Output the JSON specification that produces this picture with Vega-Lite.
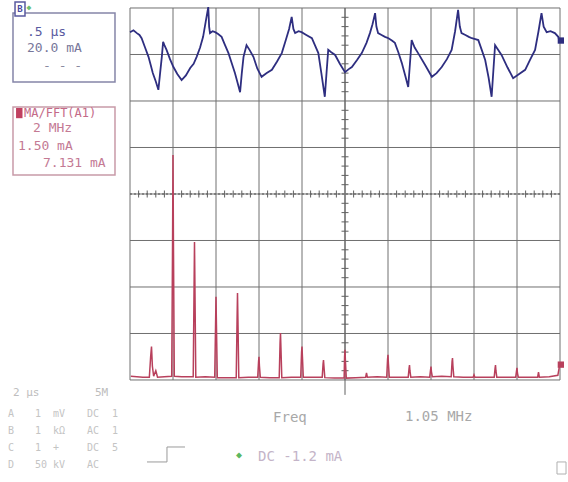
{
  "$schema": "https://vega.github.io/schema/vega-lite/v6.json",
  "width": 568,
  "height": 482,
  "autosize": {"type": "none"},
  "padding": 0,
  "background": "white",
  "view": {"stroke": null},
  "data": {"values": [{}]},
  "config": {"text": {"font": "DejaVu Sans Mono", "fontSize": 12, "align": "left", "baseline": "middle"}},
  "datasets": {
    "vgrid": [{"g":0},{"g":1},{"g":2},{"g":3},{"g":4},{"g":5},{"g":6},{"g":7},{"g":8},{"g":9},{"g":10}],
    "hgrid": [{"g":0},{"g":1},{"g":2},{"g":3},{"g":4},{"g":5},{"g":6},{"g":7},{"g":8}],
    "xticks": [{"m":0.2},{"m":0.4},{"m":0.6},{"m":0.8},{"m":1.2},{"m":1.4},{"m":1.6},{"m":1.8},{"m":2.2},{"m":2.4},{"m":2.6},{"m":2.8},{"m":3.2},{"m":3.4},{"m":3.6},{"m":3.8},{"m":4.2},{"m":4.4},{"m":4.6},{"m":4.8},{"m":5.2},{"m":5.4},{"m":5.6},{"m":5.8},{"m":6.2},{"m":6.4},{"m":6.6},{"m":6.8},{"m":7.2},{"m":7.4},{"m":7.6},{"m":7.8},{"m":8.2},{"m":8.4},{"m":8.6},{"m":8.8},{"m":9.2},{"m":9.4},{"m":9.6},{"m":9.8}],
    "yticks": [{"m":0.2},{"m":0.4},{"m":0.6},{"m":0.8},{"m":1.2},{"m":1.4},{"m":1.6},{"m":1.8},{"m":2.2},{"m":2.4},{"m":2.6},{"m":2.8},{"m":3.2},{"m":3.4},{"m":3.6},{"m":3.8},{"m":4.2},{"m":4.4},{"m":4.6},{"m":4.8},{"m":5.2},{"m":5.4},{"m":5.6},{"m":5.8},{"m":6.2},{"m":6.4},{"m":6.6},{"m":6.8},{"m":7.2},{"m":7.4},{"m":7.6},{"m":7.8}],
    "time": [
      {"t":0,"v":7.48},{"t":0.08,"v":7.52},{"t":0.16,"v":7.46},{"t":0.22,"v":7.42},{"t":0.27,"v":7.35},{"t":0.35,"v":7.15},{"t":0.43,"v":6.95},{"t":0.48,"v":6.78},{"t":0.53,"v":6.6},{"t":0.6,"v":6.42},{"t":0.66,"v":6.24},{"t":0.7,"v":6.6},{"t":0.74,"v":6.95},{"t":0.77,"v":7.27},{"t":0.8,"v":7.2},{"t":0.85,"v":7.1},{"t":0.93,"v":6.9},{"t":1.01,"v":6.73},{"t":1.1,"v":6.58},{"t":1.2,"v":6.45},{"t":1.3,"v":6.55},{"t":1.4,"v":6.71},{"t":1.48,"v":6.8},{"t":1.55,"v":6.95},{"t":1.63,"v":7.15},{"t":1.7,"v":7.38},{"t":1.76,"v":7.7},{"t":1.82,"v":8.02},{"t":1.84,"v":7.6},{"t":1.86,"v":7.46},{"t":1.92,"v":7.5},{"t":1.98,"v":7.48},
      {"t":2.05,"v":7.44},{"t":2.13,"v":7.38},{"t":2.21,"v":7.2},{"t":2.29,"v":7.03},{"t":2.37,"v":6.8},{"t":2.44,"v":6.6},{"t":2.5,"v":6.4},{"t":2.56,"v":6.19},{"t":2.6,"v":6.6},{"t":2.64,"v":6.95},{"t":2.71,"v":7.2},{"t":2.78,"v":7.1},{"t":2.87,"v":6.95},{"t":2.96,"v":6.7},{"t":3.06,"v":6.52},{"t":3.18,"v":6.6},{"t":3.3,"v":6.67},{"t":3.42,"v":6.85},{"t":3.53,"v":7.03},{"t":3.62,"v":7.3},{"t":3.7,"v":7.55},{"t":3.76,"v":7.81},{"t":3.8,"v":7.55},{"t":3.84,"v":7.46},{"t":3.92,"v":7.5},{"t":3.99,"v":7.48},
      {"t":4.1,"v":7.42},{"t":4.23,"v":7.35},{"t":4.3,"v":7.2},{"t":4.38,"v":7.03},{"t":4.45,"v":6.6},{"t":4.53,"v":6.09},{"t":4.57,"v":6.6},{"t":4.61,"v":7.1},{"t":4.68,"v":7.05},{"t":4.77,"v":6.99},{"t":4.88,"v":6.8},{"t":5.0,"v":6.62},{"t":5.08,"v":6.68},{"t":5.16,"v":6.73},{"t":5.28,"v":6.88},{"t":5.39,"v":7.03},{"t":5.5,"v":7.25},{"t":5.58,"v":7.46},{"t":5.64,"v":7.65},{"t":5.7,"v":7.89},{"t":5.73,"v":7.6},{"t":5.77,"v":7.46},{"t":5.85,"v":7.42},{"t":5.93,"v":7.38},
      {"t":6.01,"v":7.35},{"t":6.09,"v":7.3},{"t":6.16,"v":7.25},{"t":6.24,"v":7.05},{"t":6.32,"v":6.82},{"t":6.4,"v":6.55},{"t":6.47,"v":6.3},{"t":6.51,"v":6.8},{"t":6.55,"v":7.31},{"t":6.62,"v":7.15},{"t":6.7,"v":7.03},{"t":6.86,"v":6.78},{"t":7.02,"v":6.52},{"t":7.13,"v":6.6},{"t":7.25,"v":6.73},{"t":7.37,"v":6.9},{"t":7.48,"v":7.1},{"t":7.56,"v":7.5},{"t":7.63,"v":7.96},{"t":7.67,"v":7.6},{"t":7.71,"v":7.46},{"t":7.8,"v":7.42},{"t":7.88,"v":7.38},{"t":7.95,"v":7.35},
      {"t":8.03,"v":7.33},{"t":8.1,"v":7.31},{"t":8.18,"v":7.1},{"t":8.26,"v":6.88},{"t":8.34,"v":6.5},{"t":8.41,"v":6.09},{"t":8.45,"v":6.65},{"t":8.49,"v":7.2},{"t":8.56,"v":7.1},{"t":8.64,"v":6.99},{"t":8.78,"v":6.72},{"t":8.91,"v":6.49},{"t":9.05,"v":6.58},{"t":9.19,"v":6.67},{"t":9.3,"v":6.88},{"t":9.42,"v":7.1},{"t":9.5,"v":7.5},{"t":9.57,"v":7.89},{"t":9.62,"v":7.6},{"t":9.69,"v":7.48},{"t":9.78,"v":7.5},{"t":9.88,"v":7.46},{"t":9.96,"v":7.38},{"t":10.0,"v":7.25}
    ],
    "fft": [
      {"f":0.02,"a":0.08},{"f":0.3,"a":0.06},{"f":0.45,"a":0.06},{"f":0.48,"a":0.5},{"f":0.5,"a":0.72},{"f":0.52,"a":0.3},{"f":0.55,"a":0.08},{"f":0.6,"a":0.2},{"f":0.64,"a":0.06},{"f":0.8,"a":0.07},
      {"f":0.97,"a":0.08},{"f":0.99,"a":3.0},{"f":1.0,"a":4.84},{"f":1.01,"a":3.0},{"f":1.03,"a":0.08},{"f":1.2,"a":0.07},
      {"f":1.47,"a":0.07},{"f":1.49,"a":2.0},{"f":1.5,"a":2.97},{"f":1.51,"a":2.0},{"f":1.53,"a":0.06},{"f":1.75,"a":0.07},
      {"f":1.97,"a":0.06},{"f":1.99,"a":1.2},{"f":2.0,"a":1.79},{"f":2.01,"a":1.2},{"f":2.03,"a":0.05},{"f":2.25,"a":0.05},
      {"f":2.47,"a":0.05},{"f":2.49,"a":1.3},{"f":2.5,"a":1.87},{"f":2.51,"a":1.3},{"f":2.53,"a":0.05},{"f":2.75,"a":0.06},
      {"f":2.97,"a":0.06},{"f":2.99,"a":0.4},{"f":3.0,"a":0.5},{"f":3.01,"a":0.3},{"f":3.03,"a":0.06},{"f":3.25,"a":0.05},
      {"f":3.47,"a":0.05},{"f":3.49,"a":0.8},{"f":3.5,"a":1.01},{"f":3.51,"a":0.7},{"f":3.53,"a":0.05},{"f":3.75,"a":0.06},
      {"f":3.97,"a":0.06},{"f":3.99,"a":0.6},{"f":4.0,"a":0.72},{"f":4.01,"a":0.5},{"f":4.03,"a":0.06},{"f":4.25,"a":0.06},
      {"f":4.47,"a":0.06},{"f":4.49,"a":0.35},{"f":4.5,"a":0.43},{"f":4.51,"a":0.3},{"f":4.53,"a":0.05},{"f":4.75,"a":0.04},
      {"f":4.98,"a":0.04},{"f":4.99,"a":0.5},{"f":5.0,"a":0.65},{"f":5.01,"a":0.4},{"f":5.03,"a":0.04},{"f":5.25,"a":0.05},
      {"f":5.48,"a":0.06},{"f":5.5,"a":0.15},{"f":5.52,"a":0.06},{"f":5.75,"a":0.07},
      {"f":5.97,"a":0.06},{"f":5.99,"a":0.45},{"f":6.0,"a":0.54},{"f":6.01,"a":0.35},{"f":6.03,"a":0.06},{"f":6.25,"a":0.06},
      {"f":6.47,"a":0.06},{"f":6.49,"a":0.25},{"f":6.5,"a":0.32},{"f":6.51,"a":0.2},{"f":6.53,"a":0.06},{"f":6.75,"a":0.07},
      {"f":6.97,"a":0.06},{"f":6.99,"a":0.22},{"f":7.0,"a":0.29},{"f":7.01,"a":0.18},{"f":7.03,"a":0.07},{"f":7.25,"a":0.08},
      {"f":7.47,"a":0.07},{"f":7.49,"a":0.4},{"f":7.5,"a":0.47},{"f":7.51,"a":0.3},{"f":7.53,"a":0.07},{"f":7.75,"a":0.06},
      {"f":7.98,"a":0.06},{"f":8.0,"a":0.11},{"f":8.02,"a":0.06},{"f":8.25,"a":0.06},
      {"f":8.47,"a":0.06},{"f":8.49,"a":0.25},{"f":8.5,"a":0.32},{"f":8.51,"a":0.2},{"f":8.53,"a":0.06},{"f":8.75,"a":0.06},
      {"f":8.97,"a":0.06},{"f":8.99,"a":0.2},{"f":9.0,"a":0.26},{"f":9.01,"a":0.15},{"f":9.03,"a":0.06},{"f":9.25,"a":0.06},
      {"f":9.48,"a":0.06},{"f":9.5,"a":0.17},{"f":9.52,"a":0.06},{"f":9.75,"a":0.07},{"f":9.95,"a":0.1},{"f":10.0,"a":0.37}
    ]
  },
  "layer": [
    {
      "data": {"name": "vgrid"},
      "mark": {"type": "rule", "color": "#707070", "strokeWidth": 1},
      "encoding": {
        "x": {"field": "g", "type": "quantitative", "scale": {"domain": [-3.0233, 10.186], "nice": false, "zero": false}, "axis": null},
        "y": {"datum": 0, "type": "quantitative", "scale": {"domain": [-2.194, 8.172], "nice": false, "zero": false}, "axis": null},
        "y2": {"datum": 8}
      }
    },
    {
      "data": {"name": "hgrid"},
      "mark": {"type": "rule", "color": "#707070", "strokeWidth": 1},
      "encoding": {
        "y": {"field": "g", "type": "quantitative", "axis": null},
        "x": {"datum": 0, "type": "quantitative", "axis": null},
        "x2": {"datum": 10}
      }
    },
    {
      "mark": {"type": "rule", "color": "#505050", "strokeWidth": 1.2, "strokeDash": [2, 2]},
      "encoding": {"y": {"datum": 4, "type": "quantitative", "axis": null}, "x": {"datum": 0, "type": "quantitative", "axis": null}, "x2": {"datum": 10}}
    },
    {
      "mark": {"type": "rule", "color": "#606060", "strokeWidth": 1},
      "encoding": {"x": {"datum": 5, "type": "quantitative", "axis": null}, "y": {"datum": -0.32, "type": "quantitative", "axis": null}, "y2": {"datum": 8}}
    },
    {
      "data": {"name": "xticks"},
      "mark": {"type": "tick", "orient": "vertical", "size": 7, "thickness": 1, "color": "#606060", "opacity": 1},
      "encoding": {"x": {"field": "m", "type": "quantitative", "axis": null}, "y": {"datum": 4, "type": "quantitative", "axis": null}}
    },
    {
      "data": {"name": "yticks"},
      "mark": {"type": "tick", "orient": "horizontal", "size": 7, "thickness": 1, "color": "#606060", "opacity": 1},
      "encoding": {"y": {"field": "m", "type": "quantitative", "axis": null}, "x": {"datum": 5, "type": "quantitative", "axis": null}}
    },
    {
      "data": {"name": "fft"},
      "mark": {"type": "line", "color": "#b8405c", "strokeWidth": 1.5},
      "encoding": {"x": {"field": "f", "type": "quantitative", "axis": null}, "y": {"field": "a", "type": "quantitative", "axis": null}}
    },
    {
      "data": {"name": "time"},
      "mark": {"type": "line", "color": "#2e2e80", "strokeWidth": 1.8},
      "encoding": {"x": {"field": "t", "type": "quantitative", "axis": null}, "y": {"field": "v", "type": "quantitative", "axis": null}}
    },
    {
      "mark": {"type": "square", "color": "#2e2e80", "size": 40, "opacity": 1},
      "encoding": {"x": {"datum": 10.02, "type": "quantitative", "axis": null}, "y": {"datum": 7.3, "type": "quantitative", "axis": null}}
    },
    {
      "mark": {"type": "square", "color": "#b8405c", "size": 40, "opacity": 1},
      "encoding": {"x": {"datum": 10.02, "type": "quantitative", "axis": null}, "y": {"datum": 0.33, "type": "quantitative", "axis": null}}
    },
    {
      "mark": {"type": "rect", "fill": null, "stroke": "#8585a8", "strokeWidth": 1.5},
      "encoding": {"x": {"datum": -2.721, "type": "quantitative", "axis": null}, "x2": {"datum": -0.349}, "y": {"datum": 7.892, "type": "quantitative", "axis": null}, "y2": {"datum": 6.409}}
    },
    {
      "mark": {"type": "rect", "fill": null, "stroke": "#c89aa8", "strokeWidth": 1.5},
      "encoding": {"x": {"datum": -2.721, "type": "quantitative", "axis": null}, "x2": {"datum": -0.349}, "y": {"datum": 5.871, "type": "quantitative", "axis": null}, "y2": {"datum": 4.409}}
    },
    {
      "mark": {"type": "rect", "fill": "white", "stroke": "#5a5aa0", "strokeWidth": 1.5},
      "encoding": {"x": {"datum": -2.674, "type": "quantitative", "axis": null}, "x2": {"datum": -2.442}, "y": {"datum": 8.129, "type": "quantitative", "axis": null}, "y2": {"datum": 7.828}}
    },
    {
      "mark": {"type": "text", "text": "B", "color": "#4a4aa0", "fontSize": 9, "fontWeight": "bold", "align": "center"},
      "encoding": {"x": {"datum": -2.558, "type": "quantitative", "axis": null}, "y": {"datum": 7.978, "type": "quantitative", "axis": null}}
    },
    {
      "mark": {"type": "text", "text": "◆", "color": "#6cc070", "fontSize": 8, "align": "center"},
      "encoding": {"x": {"datum": -2.35, "type": "quantitative", "axis": null}, "y": {"datum": 8.0, "type": "quantitative", "axis": null}}
    },
    {
      "mark": {"type": "text", "text": ".5 µs", "color": "#5a5aa0", "fontSize": 13},
      "encoding": {"x": {"datum": -2.395, "type": "quantitative", "axis": null}, "y": {"datum": 7.484, "type": "quantitative", "axis": null}}
    },
    {
      "mark": {"type": "text", "text": "20.0 mA", "color": "#77779a", "fontSize": 13},
      "encoding": {"x": {"datum": -2.395, "type": "quantitative", "axis": null}, "y": {"datum": 7.14, "type": "quantitative", "axis": null}}
    },
    {
      "mark": {"type": "text", "text": "- - -", "color": "#8a8aa0", "fontSize": 13},
      "encoding": {"x": {"datum": -2.023, "type": "quantitative", "axis": null}, "y": {"datum": 6.753, "type": "quantitative", "axis": null}}
    },
    {
      "mark": {"type": "rect", "fill": "#c04060"},
      "encoding": {"x": {"datum": -2.65, "type": "quantitative", "axis": null}, "x2": {"datum": -2.5}, "y": {"datum": 5.85, "type": "quantitative", "axis": null}, "y2": {"datum": 5.63}}
    },
    {
      "mark": {"type": "text", "text": "MA/FFT(A1)", "color": "#c46a88", "fontSize": 12},
      "encoding": {"x": {"datum": -2.465, "type": "quantitative", "axis": null}, "y": {"datum": 5.742, "type": "quantitative", "axis": null}}
    },
    {
      "mark": {"type": "text", "text": "2 MHz", "color": "#c47a94", "fontSize": 13},
      "encoding": {"x": {"datum": -2.256, "type": "quantitative", "axis": null}, "y": {"datum": 5.419, "type": "quantitative", "axis": null}}
    },
    {
      "mark": {"type": "text", "text": "1.50 mA", "color": "#c47a94", "fontSize": 13},
      "encoding": {"x": {"datum": -2.605, "type": "quantitative", "axis": null}, "y": {"datum": 5.032, "type": "quantitative", "axis": null}}
    },
    {
      "mark": {"type": "text", "text": "7.131 mA", "color": "#c47a94", "fontSize": 13},
      "encoding": {"x": {"datum": -2.023, "type": "quantitative", "axis": null}, "y": {"datum": 4.667, "type": "quantitative", "axis": null}}
    },
    {
      "mark": {"type": "text", "text": "2 µs", "color": "#bdbdbd", "fontSize": 11},
      "encoding": {"x": {"datum": -2.721, "type": "quantitative", "axis": null}, "y": {"datum": -0.28, "type": "quantitative", "axis": null}}
    },
    {
      "mark": {"type": "text", "text": "5M", "color": "#bdbdbd", "fontSize": 11},
      "encoding": {"x": {"datum": -0.814, "type": "quantitative", "axis": null}, "y": {"datum": -0.28, "type": "quantitative", "axis": null}}
    },
    {
      "mark": {"type": "text", "text": ["A","B","C","D"], "color": "#c4c4c4", "fontSize": 10, "baseline": "top", "lineHeight": 17},
      "encoding": {"x": {"datum": -2.84, "type": "quantitative", "axis": null}, "y": {"datum": -0.62, "type": "quantitative", "axis": null}}
    },
    {
      "mark": {"type": "text", "text": ["1","1","1","50"], "color": "#c4c4c4", "fontSize": 10, "baseline": "top", "lineHeight": 17},
      "encoding": {"x": {"datum": -2.209, "type": "quantitative", "axis": null}, "y": {"datum": -0.62, "type": "quantitative", "axis": null}}
    },
    {
      "mark": {"type": "text", "text": ["mV","kΩ","+","kV"], "color": "#c4c4c4", "fontSize": 10, "baseline": "top", "lineHeight": 17},
      "encoding": {"x": {"datum": -1.791, "type": "quantitative", "axis": null}, "y": {"datum": -0.62, "type": "quantitative", "axis": null}}
    },
    {
      "mark": {"type": "text", "text": ["DC","AC","DC","AC"], "color": "#c4c4c4", "fontSize": 10, "baseline": "top", "lineHeight": 17},
      "encoding": {"x": {"datum": -1.0, "type": "quantitative", "axis": null}, "y": {"datum": -0.62, "type": "quantitative", "axis": null}}
    },
    {
      "mark": {"type": "text", "text": ["1","1","5",""], "color": "#c4c4c4", "fontSize": 10, "baseline": "top", "lineHeight": 17},
      "encoding": {"x": {"datum": -0.419, "type": "quantitative", "axis": null}, "y": {"datum": -0.62, "type": "quantitative", "axis": null}}
    },
    {
      "mark": {"type": "text", "text": "Freq", "color": "#a8a8a8", "fontSize": 14},
      "encoding": {"x": {"datum": 3.326, "type": "quantitative", "axis": null}, "y": {"datum": -0.817, "type": "quantitative", "axis": null}}
    },
    {
      "mark": {"type": "text", "text": "1.05 MHz", "color": "#a8a8a8", "fontSize": 14},
      "encoding": {"x": {"datum": 6.395, "type": "quantitative", "axis": null}, "y": {"datum": -0.796, "type": "quantitative", "axis": null}}
    },
    {
      "mark": {"type": "rule", "color": "#9a9a9a", "strokeWidth": 1},
      "encoding": {"x": {"datum": 0.395, "type": "quantitative", "axis": null}, "x2": {"datum": 0.86}, "y": {"datum": -1.763, "type": "quantitative", "axis": null}}
    },
    {
      "mark": {"type": "rule", "color": "#9a9a9a", "strokeWidth": 1},
      "encoding": {"x": {"datum": 0.86, "type": "quantitative", "axis": null}, "y": {"datum": -1.763, "type": "quantitative", "axis": null}, "y2": {"datum": -1.441}}
    },
    {
      "mark": {"type": "rule", "color": "#9a9a9a", "strokeWidth": 1},
      "encoding": {"x": {"datum": 0.86, "type": "quantitative", "axis": null}, "x2": {"datum": 1.279}, "y": {"datum": -1.441, "type": "quantitative", "axis": null}}
    },
    {
      "mark": {"type": "text", "text": "◆", "color": "#5cb860", "fontSize": 10, "align": "center"},
      "encoding": {"x": {"datum": 2.535, "type": "quantitative", "axis": null}, "y": {"datum": -1.62, "type": "quantitative", "axis": null}}
    },
    {
      "mark": {"type": "text", "text": "DC -1.2 mA", "color": "#c4b4c8", "fontSize": 14},
      "encoding": {"x": {"datum": 2.977, "type": "quantitative", "axis": null}, "y": {"datum": -1.656, "type": "quantitative", "axis": null}}
    },
    {
      "mark": {"type": "rect", "fill": null, "stroke": "#b0b0b0", "strokeWidth": 1},
      "encoding": {"x": {"datum": 9.93, "type": "quantitative", "axis": null}, "x2": {"datum": 10.14}, "y": {"datum": -1.763, "type": "quantitative", "axis": null}, "y2": {"datum": -2.022}}
    }
  ]
}
